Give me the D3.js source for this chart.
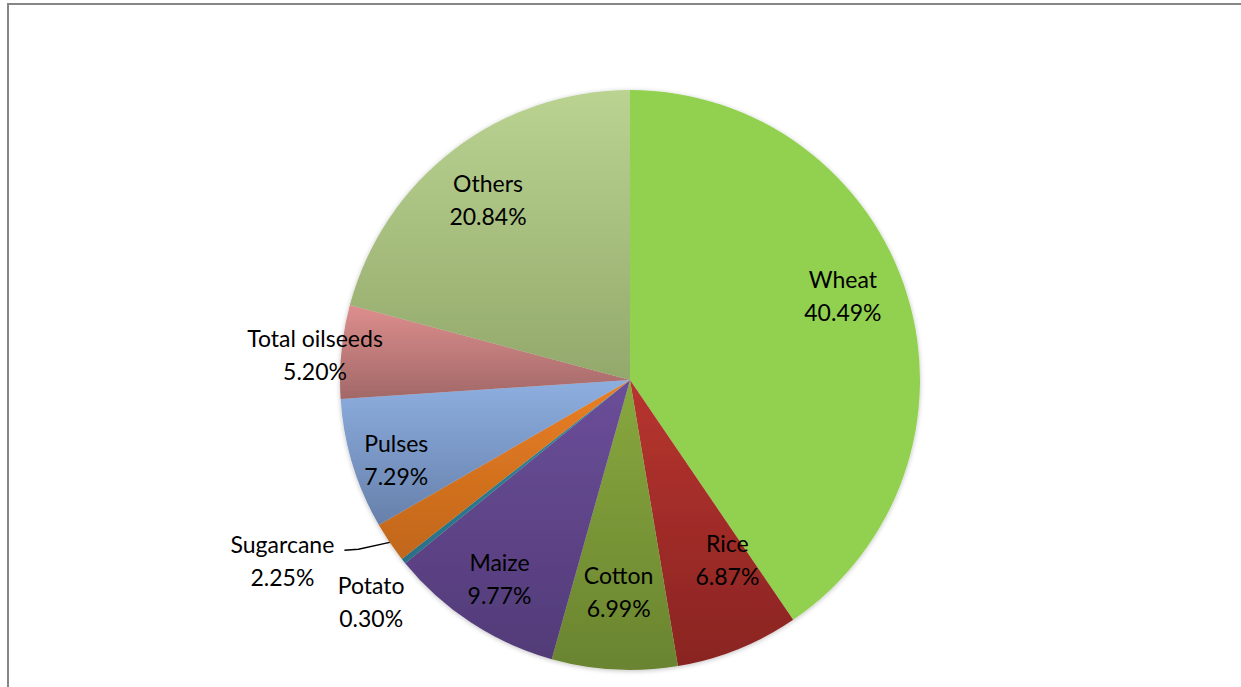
<!DOCTYPE html>
<html>
<head>
<meta charset="utf-8">
<script src="https://cdn.jsdelivr.net/npm/d3@7"></script>
<style>
  body { margin: 0; background: #fff; }
  .lbl { font-family: Lato, "Noto Sans", sans-serif; font-size: 23px; fill: #000; }
</style>
</head>
<body>
<script>
// data, clockwise from 12 o'clock
var categories = ["Wheat", "Rice", "Cotton", "Maize", "Potato", "Sugarcane", "Pulses", "Total oilseeds", "Others"];
var shares = [40.49, 6.87, 6.99, 9.77, 0.30, 2.25, 7.29, 5.20, 20.84];

// slice colours (top, bottom of the vertical gradient)
var topColors = ["#92d050", "#b8342f", "#88a83e", "#6b4e99", "#31889e", "#ea7f24", "#8dafe0", "#dd8e8d", "#bad391"];
var bottomColors = ["#92d050", "#892422", "#6a8430", "#523b78", "#2a7085", "#c0661b", "#6780ab", "#a26868", "#93a96c"];

// label layout: radius from centre and angle nudge (degrees)
var labelLayout = [
    { r: 229, da: -4.5 }, { r: 205, da: -6.5 }, { r: 212, da: 0 },
    { r: 238, da: 0 }, { r: 341, da: -2 }, { r: 392, da: 6.5 },
    { r: 247, da: -2 }, { r: 316, da: -1 }, { r: 229, da: -0.8 }
];

function init() {
    var w = 1241;
    var h = 687;
    var cx = 630;
    var cy = 380;
    var R = 290;

    var svg = d3.select("body")
        .append("svg")
        .attr("width", w)
        .attr("height", h);

    // chart area border
    svg.append("rect")
        .attr("x", 8)
        .attr("y", 4)
        .attr("width", w + 20)
        .attr("height", h + 20)
        .attr("fill", "#fff")
        .attr("stroke", "#868686")
        .attr("stroke-width", 2);

    var defs = svg.append("defs");
    categories.forEach(function(c, i) {
        var g = defs.append("linearGradient")
            .attr("id", "grad" + i)
            .attr("x1", 0).attr("y1", 0)
            .attr("x2", 0).attr("y2", 1);
        g.append("stop").attr("offset", "0%").attr("stop-color", topColors[i]);
        g.append("stop").attr("offset", "100%").attr("stop-color", bottomColors[i]);
    });

    var shadow = defs.append("filter")
        .attr("id", "shadow")
        .attr("x", "-10%").attr("y", "-10%")
        .attr("width", "120%").attr("height", "120%");
    shadow.append("feGaussianBlur").attr("in", "SourceAlpha").attr("stdDeviation", 2.5);
    shadow.append("feOffset").attr("dx", 0).attr("dy", 1).attr("result", "blur");
    shadow.append("feComponentTransfer").append("feFuncA").attr("type", "linear").attr("slope", 0.25);
    var merge = shadow.append("feMerge");
    merge.append("feMergeNode");
    merge.append("feMergeNode").attr("in", "SourceGraphic");

    var pie = d3.pie().sort(null).value(function(d) { return d; });
    var arcs = pie(shares);

    var arc = d3.arc().innerRadius(0).outerRadius(R);

    var g = svg.append("g")
        .attr("transform", "translate(" + cx + "," + cy + ")");

    g.append("g")
        .attr("filter", "url(#shadow)")
        .selectAll("path")
        .data(arcs)
        .enter()
        .append("path")
        .attr("d", arc)
        .attr("fill", function(d, i) { return "url(#grad" + i + ")"; });

    // labels
    var labels = g.selectAll("text.lbl")
        .data(arcs)
        .enter()
        .append("text")
        .attr("class", "lbl")
        .attr("text-anchor", "middle")
        .attr("transform", function(d, i) {
            var a = (d.startAngle + d.endAngle) / 2 + labelLayout[i].da * Math.PI / 180;
            var r = labelLayout[i].r;
            return "translate(" + (r * Math.sin(a)) + "," + (-r * Math.cos(a)) + ")";
        });

    labels.append("tspan")
        .attr("x", 0)
        .attr("y", -8)
        .text(function(d, i) { return categories[i]; });

    labels.append("tspan")
        .attr("x", 0)
        .attr("y", 25)
        .text(function(d) { return d.value.toFixed(2) + "%"; });

    // leader line for Sugarcane
    var si = categories.indexOf("Sugarcane");
    var sd = arcs[si];
    var sa = (sd.startAngle + sd.endAngle) / 2;
    var edge = [R * Math.sin(sa), -R * Math.cos(sa)];
    var lbl = labelLayout[si];
    var la = sa + lbl.da * Math.PI / 180;
    var lx = lbl.r * Math.sin(la) + 62;
    var ly = -lbl.r * Math.cos(la) - 11;
    g.append("path")
        .attr("d", d3.line()([[lx, ly], [lx + 14, ly - 1], edge]))
        .attr("fill", "none")
        .attr("stroke", "#000")
        .attr("stroke-width", 1.3);
}

window.onload = init;
</script>
</body>
</html>
